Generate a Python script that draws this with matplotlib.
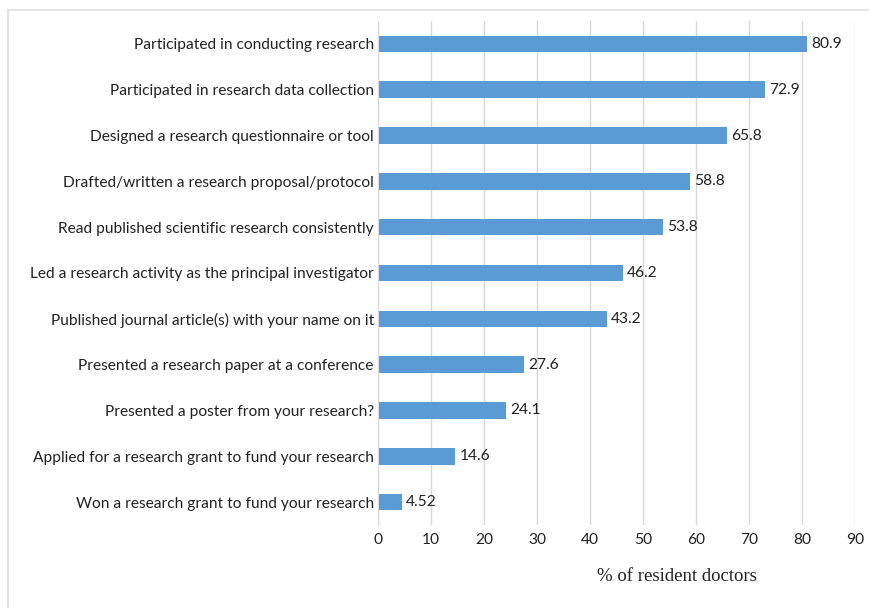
import matplotlib
matplotlib.use("Agg")
import matplotlib.pyplot as plt
from matplotlib.lines import Line2D

# Research activities of resident doctors (% of respondents)
activities = [
    "Participated in conducting research",
    "Participated in research data collection",
    "Designed a research questionnaire or tool",
    "Drafted/written a research proposal/protocol",
    "Read published scientific research consistently",
    "Led a research activity as the principal investigator",
    "Published journal article(s) with your name on it",
    "Presented a research paper at a conference",
    "Presented a poster from your research?",
    "Applied for a research grant to fund your research",
    "Won a research grant to fund your research",
]
percent = [80.9, 72.9, 65.8, 58.8, 53.8, 46.2, 43.2, 27.6, 24.1, 14.6, 4.52]
value_labels = ["80.9", "72.9", "65.8", "58.8", "53.8", "46.2", "43.2",
                "27.6", "24.1", "14.6", "4.52"]
xticks = list(range(0, 100, 10))

plt.rcParams["font.family"] = ["Lato", "DejaVu Sans"]

fig = plt.figure(figsize=(8.70, 6.08), dpi=100)
ax = fig.add_axes([0.4345, 0.1365, 0.5485, 0.829])

ypos = list(range(len(activities)))
ax.barh(ypos, percent, height=0.36, color="#5b9bd5", zorder=3)
for y, v, s in zip(ypos, percent, value_labels):
    ax.text(v + 0.8, y, s, va="center", ha="left", fontsize=11.2, color="#222222")

ax.set_ylim(len(activities) - 0.5, -0.5)
ax.set_xlim(0, 90)
ax.set_xticks(xticks)
ax.set_yticks(ypos)
ax.set_yticklabels(activities)
ax.tick_params(axis="both", length=0, labelsize=11.2, colors="#222222")
ax.tick_params(axis="x", pad=6)
ax.tick_params(axis="y", pad=3)
ax.xaxis.grid(True, color="#d9d9d9", lw=1, zorder=0)
for side in ("top", "right", "bottom"):
    ax.spines[side].set_visible(False)
ax.spines["left"].set_color("#d9d9d9")
ax.spines["left"].set_zorder(4)

fig.text(0.778, 0.051, "% of resident doctors", ha="center", va="center",
         family="Liberation Serif", fontsize=13.5, color="#222222")

# light frame around the chart area
fig.add_artist(Line2D([0.0092, 0.0092], [0.0, 0.9836], transform=fig.transFigure,
                      color="#e0e0e0", lw=1.2))
fig.add_artist(Line2D([0.0092, 1.0], [0.9836, 0.9836], transform=fig.transFigure,
                      color="#e0e0e0", lw=1.2))

fig.savefig("out.png", dpi=100)
